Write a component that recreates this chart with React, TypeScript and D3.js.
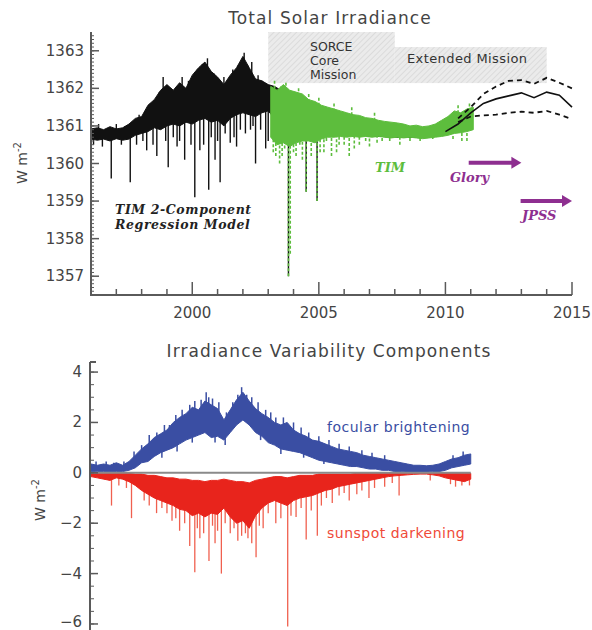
import React from "react";
import * as d3 from "d3";

// ---------- DATA ----------
// sample grid: start year + quarter-year steps
const gridStart = 1996.0;
const gridStep = 0.25;

// TIM 2-component regression model (black), W m-2, upper / lower envelope
const modelHi = [
  1360.92, 1360.95, 1360.9, 1360.98, 1360.92, 1360.95, 1361.05, 1361.2, 1361.25, 1361.55,
  1361.7, 1361.95, 1362.1, 1361.95, 1362.15, 1362.0, 1362.35, 1362.55, 1362.7, 1362.45,
  1362.3, 1362.1, 1362.35, 1362.55, 1362.85, 1362.55, 1362.25, 1362.2, 1362.1, 1362.05,
  1361.95, 1361.9, 1361.85, 1361.8, 1361.65, 1361.55, 1361.5, 1361.45, 1361.4, 1361.35,
  1361.3, 1361.25, 1361.2, 1361.15, 1361.1, 1361.05, 1361.0, 1360.95, 1360.92, 1360.88,
  1360.85, 1360.82, 1360.8, 1360.8, 1360.82, 1360.85, 1360.95, 1361.0, 1361.1, 1361.2, 1361.3,
];
const modelLo = [
  1360.65, 1360.62, 1360.65, 1360.6, 1360.66, 1360.62, 1360.65, 1360.75, 1360.8, 1360.85,
  1360.95, 1360.9, 1361.0, 1361.05, 1361.0, 1361.1, 1361.05, 1361.15, 1361.2, 1361.1,
  1361.15, 1361.0, 1361.2, 1361.3, 1361.35, 1361.3, 1361.25, 1361.35, 1361.4, 1361.2,
  1361.05, 1360.9, 1360.95, 1360.95, 1360.9, 1360.85, 1360.85, 1360.8, 1360.8, 1360.8,
  1360.75, 1360.75, 1360.75, 1360.75, 1360.72, 1360.72, 1360.72, 1360.7, 1360.7, 1360.7,
  1360.7, 1360.7, 1360.7, 1360.7, 1360.72, 1360.74, 1360.78, 1360.82, 1360.88, 1360.95, 1361.05,
];
// sharp excursions of the model: [year, value]
const modelSpikes = [
  [1996.1, 1360.5], [1996.3, 1361.05], [1996.45, 1360.45], [1996.8, 1359.6], [1997.0, 1361.05],
  [1997.2, 1360.5], [1997.35, 1361.0], [1997.55, 1359.5], [1997.8, 1360.5], [1997.9, 1361.3],
  [1998.05, 1360.6], [1998.2, 1360.35], [1998.35, 1361.6], [1998.45, 1360.5], [1998.6, 1360.2],
  [1998.7, 1361.9], [1998.85, 1362.3], [1998.95, 1360.6], [1999.05, 1359.9], [1999.15, 1362.0],
  [1999.25, 1360.7], [1999.4, 1360.45], [1999.5, 1360.6], [1999.6, 1362.3], [1999.7, 1360.1],
  [1999.85, 1362.2], [1999.95, 1360.5], [2000.1, 1359.1], [2000.2, 1362.5], [2000.3, 1360.35],
  [2000.4, 1362.65], [2000.45, 1360.5], [2000.6, 1362.8], [2000.65, 1359.3], [2000.75, 1360.7],
  [2000.85, 1362.4], [2000.9, 1360.1], [2001.0, 1360.6], [2001.1, 1359.5], [2001.25, 1362.3],
  [2001.3, 1360.8], [2001.4, 1362.2], [2001.5, 1360.55], [2001.6, 1362.5], [2001.65, 1360.7],
  [2001.75, 1360.45], [2001.8, 1362.6], [2001.9, 1360.9], [2002.05, 1362.95], [2002.1, 1360.8],
  [2002.2, 1362.6], [2002.3, 1360.9], [2002.35, 1362.7], [2002.4, 1361.0], [2002.5, 1360.0],
  [2002.6, 1362.35], [2002.7, 1360.9], [2002.75, 1362.2], [2002.85, 1361.9], [2002.9, 1360.4],
  [2003.0, 1360.6], [2003.8, 1357.0], [2004.5, 1359.25], [2004.93, 1359.0],
];

// TIM measurements (green)
const timStart = 2003.1;
const timHi = [
  1362.05, 1361.95, 1362.1, 1361.95, 1361.9, 1361.85, 1361.7, 1361.65, 1361.55, 1361.5,
  1361.45, 1361.4, 1361.35, 1361.3, 1361.28, 1361.22, 1361.2, 1361.15, 1361.12, 1361.1,
  1361.08, 1361.05, 1361.0, 1361.02, 1360.98, 1361.0, 1361.05, 1361.15, 1361.25, 1361.4,
  1361.35, 1361.45, 1361.5,
];
const timLo = [
  1360.7, 1360.5, 1360.55, 1360.45, 1360.55, 1360.6, 1360.6, 1360.55, 1360.65, 1360.7,
  1360.7, 1360.72, 1360.7, 1360.72, 1360.7, 1360.72, 1360.7, 1360.72, 1360.7, 1360.68,
  1360.7, 1360.68, 1360.7, 1360.68, 1360.66, 1360.68, 1360.7, 1360.72, 1360.75, 1360.8,
  1360.82, 1360.85, 1360.9,
];
const timSpikes = [
  [2003.2, 1360.3], [2003.25, 1362.2], [2003.3, 1360.2], [2003.45, 1360.0], [2003.5, 1362.05],
  [2003.55, 1360.2], [2003.65, 1360.4], [2003.7, 1362.15], [2003.8, 1357.0], [2003.87, 1357.6],
  [2004.0, 1360.3], [2004.1, 1360.2], [2004.2, 1362.0], [2004.25, 1360.5], [2004.35, 1360.1],
  [2004.5, 1359.25], [2004.6, 1361.85], [2004.7, 1360.2], [2004.93, 1359.0], [2005.0, 1361.75],
  [2005.05, 1360.3], [2005.2, 1360.3], [2005.3, 1360.6], [2005.5, 1360.2], [2005.6, 1361.6],
  [2005.7, 1360.3], [2005.8, 1360.5], [2006.0, 1360.5], [2006.2, 1360.2], [2006.3, 1361.5],
  [2006.4, 1360.4], [2006.6, 1360.5], [2006.85, 1360.6], [2007.0, 1360.45], [2007.2, 1361.35],
  [2007.3, 1360.55], [2007.5, 1360.6], [2007.8, 1360.6], [2008.2, 1360.5], [2008.6, 1360.6],
  [2009.0, 1360.6], [2009.5, 1360.65], [2010.3, 1360.65], [2010.5, 1361.55], [2010.65, 1360.6],
  [2010.85, 1360.6], [2010.95, 1361.6],
];

// projection
const projYears = [2010.0, 2010.5, 2011.0, 2011.5, 2012.0, 2012.5, 2013.0, 2013.5, 2014.0, 2014.5, 2015.0];
const projMid = [1360.85, 1361.05, 1361.35, 1361.6, 1361.72, 1361.8, 1361.88, 1361.75, 1361.9, 1361.82, 1361.5];
const projBandYears = [2010.5, 2011.0, 2011.5, 2012.0, 2012.5, 2013.0, 2013.5, 2014.0, 2014.5, 2015.0];
const projUpper = [1361.2, 1361.5, 1361.85, 1362.05, 1362.2, 1362.22, 1362.12, 1362.28, 1362.15, 1362.0];
const projLower = [1361.1, 1361.25, 1361.28, 1361.3, 1361.35, 1361.38, 1361.35, 1361.4, 1361.3, 1361.18];

// mission periods
const missionNames = ["SORCE Core Mission", "Extended Mission"];
const missionStart = [2003.0, 2008.0];
const missionEnd = [2008.0, 2014.0];
const missionTop = [1363.5, 1363.1];
const missionBottom = 1362.14;

// follow-on missions (arrows)
const arrowNames = ["Glory", "JPSS"];
const arrowStart = [2010.92, 2012.97];
const arrowEnd = [2013.0, 2015.0];
const arrowLevel = [1360.02, 1359.0];

// variability components
const facularHi = [
  0.35, 0.3, 0.35, 0.3, 0.4, 0.3, 0.45, 0.7, 0.95, 1.15,
  1.4, 1.55, 1.7, 2.0, 2.2, 2.35, 2.6, 2.5, 2.85, 2.7,
  2.55, 2.1, 2.5, 2.9, 3.2, 2.85, 2.55, 2.35, 2.2, 2.0,
  1.9, 2.0, 1.7, 1.55, 1.45, 1.3, 1.25, 1.15, 1.05, 0.95,
  0.9, 0.85, 0.8, 0.7, 0.65, 0.6, 0.55, 0.5, 0.45, 0.4,
  0.35, 0.3, 0.3, 0.28, 0.3, 0.35, 0.45, 0.55, 0.6, 0.7, 0.75,
];
const facularLo = [
  0.0, 0.05, 0.05, 0.05, 0.05, 0.05, 0.1, 0.2, 0.4, 0.45,
  0.65, 0.8, 0.9, 1.0, 1.15, 1.3, 1.4, 1.5, 1.6, 1.4,
  1.45, 1.3, 1.6, 1.9, 2.1, 1.9, 1.6, 1.45, 1.2, 1.1,
  0.95, 0.9, 0.85, 0.8, 0.7, 0.6, 0.5, 0.45, 0.4, 0.35,
  0.3, 0.25, 0.25, 0.2, 0.15, 0.15, 0.1, 0.1, 0.05, 0.05,
  0.02, 0.02, 0.02, 0.02, 0.05, 0.05, 0.1, 0.2, 0.25, 0.3, 0.35,
];
const facularSpikes = [
  [1996.2, 0.45], [1996.6, 0.45], [1996.9, 0.4], [1997.3, 0.45], [1997.7, 0.85],
  [1998.0, 1.1], [1998.3, 1.5], [1998.6, 1.6], [1998.8, 0.6], [1998.9, 1.9],
  [1999.1, 1.9], [1999.35, 2.3], [1999.4, 0.85], [1999.6, 2.5], [1999.9, 2.7],
  [2000.0, 1.2], [2000.1, 2.85], [2000.35, 2.9], [2000.55, 3.2], [2000.65, 3.0],
  [2000.8, 2.95], [2000.9, 1.2], [2001.05, 2.8], [2001.3, 1.1], [2001.35, 2.4],
  [2001.6, 2.8], [2001.8, 3.1], [2001.95, 3.4], [2002.15, 3.1], [2002.35, 3.0],
  [2002.6, 2.8], [2002.7, 1.3], [2002.9, 2.5], [2003.1, 2.4], [2003.3, 2.2],
  [2003.5, 0.75], [2003.6, 2.2], [2004.0, 2.0], [2004.3, 1.8], [2004.4, 0.6],
  [2004.6, 1.6], [2005.0, 1.45], [2005.2, 0.35], [2005.4, 1.3], [2005.8, 1.15],
  [2006.2, 1.05], [2006.7, 0.9], [2007.1, 0.8], [2007.6, 0.7], [2010.3, 0.7],
  [2010.7, 0.85],
];
const sunspotHi = [
  -0.02, -0.02, -0.02, -0.02, -0.02, -0.02, -0.02, -0.05, -0.05, -0.1,
  -0.1, -0.15, -0.2, -0.2, -0.25, -0.25, -0.3, -0.3, -0.35, -0.3,
  -0.3, -0.25, -0.3, -0.35, -0.35, -0.4, -0.3, -0.25, -0.2, -0.15,
  -0.15, -0.2, -0.15, -0.1, -0.1, -0.1, -0.05, -0.05, -0.05, -0.05,
  -0.05, -0.05, -0.02, -0.02, -0.02, -0.02, -0.02, -0.02, -0.02, -0.02,
  -0.02, -0.02, -0.02, -0.02, -0.02, -0.02, -0.02, -0.02, -0.02, -0.02, -0.02,
];
const sunspotLo = [
  -0.15, -0.2, -0.25, -0.3, -0.2, -0.25, -0.35, -0.5, -0.7, -0.85,
  -1.0, -1.1, -1.2, -1.3, -1.45, -1.5, -1.7, -1.6, -1.75, -1.6,
  -1.65, -1.4, -1.75, -2.0, -1.9, -2.2, -1.7, -1.4, -1.2, -1.1,
  -1.2, -1.3, -1.1, -1.0, -0.95, -0.9, -0.8, -0.7, -0.65, -0.55,
  -0.5, -0.45, -0.4, -0.35, -0.3, -0.25, -0.2, -0.15, -0.12, -0.1,
  -0.08, -0.06, -0.05, -0.05, -0.08, -0.12, -0.2, -0.25, -0.3, -0.35, -0.25,
];
const sunspotSpikes = [
  [1996.81, -1.3], [1997.1, -0.5], [1997.4, -0.6], [1997.6, -1.8], [1998.1, -1.1],
  [1998.3, -1.3], [1998.59, -1.6], [1998.8, -1.4], [1999.0, -1.6], [1999.2, -1.9],
  [1999.35, -1.8], [1999.5, -2.3], [1999.7, -2.0], [1999.9, -2.9], [2000.1, -3.95],
  [2000.2, -2.2], [2000.3, -2.6], [2000.45, -2.4], [2000.66, -3.5], [2000.8, -2.1],
  [2000.9, -2.8], [2001.0, -2.3], [2001.15, -4.0], [2001.3, -2.0], [2001.5, -2.4],
  [2001.65, -2.2], [2001.8, -2.7], [2001.95, -2.5], [2002.1, -2.4], [2002.2, -2.6],
  [2002.35, -2.8], [2002.52, -3.35], [2002.65, -2.1], [2002.8, -2.2], [2003.0, -1.6],
  [2003.3, -2.0], [2003.5, -1.8], [2003.77, -6.1], [2003.9, -1.7], [2004.1, -1.75],
  [2004.3, -1.4], [2004.5, -2.65], [2004.7, -1.5], [2004.94, -2.5], [2005.1, -1.3],
  [2005.3, -1.0], [2005.53, -1.2], [2005.8, -0.9], [2006.0, -0.8], [2006.2, -1.1],
  [2006.5, -0.85], [2006.7, -0.7], [2006.98, -1.0], [2007.2, -0.6], [2007.6, -0.55],
  [2007.9, -0.4], [2008.17, -0.9], [2009.4, -0.3], [2010.2, -0.45], [2010.4, -0.55],
  [2010.65, -0.5], [2010.95, -0.5],
];

// axis ticks
const topYTicks = [1357, 1358, 1359, 1360, 1361, 1362, 1363];
const xTickLabels = [2000, 2005, 2010, 2015];
const bottomYTicks = [4, 2, 0, -2, -4, -6];

// ---------- STYLE ----------
const FONT = "'DejaVu Sans', sans-serif";
const SERIF = "'DejaVu Serif', serif";
const AXIS = "#5a5a5a";
const TEXT = "#444";
const GREEN = "#5dbd3d";
const PURPLE = "#8e2f90";
const BLUE = "#3a4ea3";
const RED = "#e8241c";

type Row = { t: number; hi: number; lo: number };
const rows = (start: number, hi: number[], lo: number[]): Row[] =>
  hi.map((h, i) => ({ t: start + i * gridStep, hi: h, lo: lo[i] }));

function baseAt(data: Row[], t: number) {
  let best = data[0];
  for (const r of data) if (Math.abs(r.t - t) < Math.abs(best.t - t)) best = r;
  return (best.hi + best.lo) / 2;
}

export default function App() {
  const x = d3.scaleLinear().domain([1996, 2015]).range([91, 572]);
  const yT = d3.scaleLinear().domain([1356.5, 1363.5]).range([295, 32]);
  const yB = d3.scaleLinear().domain([-6.2, 4.4]).range([629, 362]);

  const model = rows(gridStart, modelHi, modelLo);
  const tim = rows(timStart, timHi, timLo);
  const fac = rows(gridStart, facularHi, facularLo);
  const sun = rows(gridStart, sunspotHi, sunspotLo);

  const areaT = d3.area<Row>().x((d) => x(d.t)).y0((d) => yT(d.lo)).y1((d) => yT(d.hi));
  const areaB = d3.area<Row>().x((d) => x(d.t)).y0((d) => yB(d.lo)).y1((d) => yB(d.hi));
  const lineT = d3.line<[number, number]>().x((d) => x(d[0])).y((d) => yT(d[1]));

  const minorTop = d3.range(13565, 13635, 1).map((v) => v / 10);
  const minorBottom = d3.range(-12, 9, 1).map((v) => v / 2);
  const xMinor = d3.range(1996, 2016);

  return (
    <svg width={592} height={630} style={{ position: "absolute", left: 0, top: 0, background: "#fff" }}>
      <defs>
        <pattern id="hatch" width="4" height="4" patternUnits="userSpaceOnUse" patternTransform="rotate(45)">
          <rect width="4" height="4" fill="#ebebeb" />
          <line x1="0" y1="0" x2="0" y2="4" stroke="#d6d6d6" strokeWidth="1.5" />
        </pattern>
      </defs>

      {/* ===== TOP PANEL ===== */}
      <text x={330} y={24} textAnchor="middle" fontFamily={FONT} fontSize={17} fill={TEXT} letterSpacing={1.1}>
        Total Solar Irradiance
      </text>

      {/* mission shading */}
      {missionNames.map((m, i) => (
        <rect key={m} x={x(missionStart[i])} y={yT(missionTop[i])}
          width={x(missionEnd[i]) - x(missionStart[i])} height={yT(missionBottom) - yT(missionTop[i])}
          fill="url(#hatch)" />
      ))}
      <text fontFamily={FONT} fontSize={12.5} fill="#333">
        <tspan x={310} y={51}>SORCE</tspan>
        <tspan x={310} y={65}>Core</tspan>
        <tspan x={310} y={79}>Mission</tspan>
      </text>
      <text x={407} y={63} fontFamily={FONT} fontSize={13} fill="#333" letterSpacing={0.4}>Extended Mission</text>

      {/* model */}
      {modelSpikes.map(([t, v], i) => (
        <line key={"ms" + i} x1={x(t)} x2={x(t)} y1={yT(v)} y2={yT(baseAt(model, t))} stroke="#111" strokeWidth={1.4} />
      ))}
      <path d={areaT(model) || ""} fill="#111" stroke="#111" strokeWidth={1} />

      {/* TIM */}
      {timSpikes.map(([t, v], i) => (
        <line key={"ts" + i} x1={x(t)} x2={x(t)} y1={yT(v)} y2={yT(baseAt(tim, t))} stroke={GREEN} strokeWidth={1.6} strokeDasharray="3,2" />
      ))}
      <path d={areaT(tim) || ""} fill={GREEN} stroke={GREEN} strokeWidth={1} />

      {/* projection */}
      <path d={lineT(projYears.map((t, i) => [t, projMid[i]])) || ""} fill="none" stroke="#111" strokeWidth={1.6} />
      <path d={lineT(projBandYears.map((t, i) => [t, projUpper[i]])) || ""} fill="none" stroke="#111" strokeWidth={1.8} strokeDasharray="5,4" />
      <path d={lineT(projBandYears.map((t, i) => [t, projLower[i]])) || ""} fill="none" stroke="#111" strokeWidth={1.8} strokeDasharray="5,4" />

      {/* arrows */}
      {arrowNames.map((n, i) => {
        const x0 = x(arrowStart[i]);
        const x1 = x(arrowEnd[i]);
        const yy = yT(arrowLevel[i]);
        return (
          <g key={n}>
            <line x1={x0} x2={x1 - 8} y1={yy} y2={yy} stroke={PURPLE} strokeWidth={4} />
            <polygon points={`${x1 - 10},${yy - 6} ${x1},${yy} ${x1 - 10},${yy + 6}`} fill={PURPLE} />
          </g>
        );
      })}
      <text x={450} y={182} fontFamily={SERIF} fontSize={13} fontWeight="bold" fontStyle="italic" fill={PURPLE}>Glory</text>
      <text x={522} y={220} fontFamily={SERIF} fontSize={13} fontWeight="bold" fontStyle="italic" fill={PURPLE}>JPSS</text>
      <text x={375} y={172} fontFamily={SERIF} fontSize={13} fontWeight="bold" fontStyle="italic" fill={GREEN}>TIM</text>

      <text fontFamily={SERIF} fontSize={12.5} fontWeight="bold" fontStyle="italic" fill="#222" letterSpacing={0.6}>
        <tspan x={115} y={214}>TIM 2-Component</tspan>
        <tspan x={115} y={229}>Regression Model</tspan>
      </text>

      {/* top axes */}
      <line x1={91} x2={91} y1={32} y2={295} stroke={AXIS} strokeWidth={2} />
      <line x1={90} x2={572} y1={295} y2={295} stroke={AXIS} strokeWidth={2} />
      {minorTop.map((v) => (
        <line key={"tm" + v} x1={91} x2={94} y1={yT(v)} y2={yT(v)} stroke={AXIS} strokeWidth={1} />
      ))}
      {topYTicks.map((v) => (
        <g key={"ty" + v}>
          <line x1={91} x2={99} y1={yT(v)} y2={yT(v)} stroke={AXIS} strokeWidth={1.5} />
          <text x={84} y={yT(v) + 5} textAnchor="end" fontFamily={FONT} fontSize={15} fill={TEXT}>{v}</text>
        </g>
      ))}
      {xMinor.map((t) => (
        <line key={"xm" + t} x1={x(t)} x2={x(t)} y1={295} y2={xTickLabels.includes(t) ? 282 : 289} stroke={AXIS} strokeWidth={1.5} />
      ))}
      {xTickLabels.map((t) => (
        <text key={"xl" + t} x={x(t)} y={318} textAnchor="middle" fontFamily={FONT} fontSize={15} fill={TEXT}>{t}</text>
      ))}
      <text transform="translate(27,163) rotate(-90)" textAnchor="middle" fontFamily={FONT} fontSize={14} fill={TEXT}>
        W m<tspan dy={-6} fontSize={10}>-2</tspan>
      </text>

      {/* ===== BOTTOM PANEL ===== */}
      <text x={329} y={357} textAnchor="middle" fontFamily={FONT} fontSize={17} fill={TEXT} letterSpacing={1.1}>
        Irradiance Variability Components
      </text>

      {sunspotSpikes.map(([t, v], i) => (
        <line key={"ss" + i} x1={x(t)} x2={x(t)} y1={yB(v)} y2={yB(baseAt(sun, t))} stroke="#f0604f" strokeWidth={1.3} />
      ))}
      <path d={areaB(sun) || ""} fill={RED} stroke={RED} strokeWidth={1} />
      {facularSpikes.map(([t, v], i) => (
        <line key={"fs" + i} x1={x(t)} x2={x(t)} y1={yB(v)} y2={yB(baseAt(fac, t))} stroke={BLUE} strokeWidth={1.5} />
      ))}
      <path d={areaB(fac) || ""} fill={BLUE} stroke={BLUE} strokeWidth={1} />
      <line x1={91} x2={x(2011)} y1={yB(0)} y2={yB(0)} stroke="#8a8a8a" strokeWidth={2} />

      <text x={327} y={432} fontFamily={FONT} fontSize={14} fill={BLUE} letterSpacing={0.5}>focular brightening</text>
      <text x={327} y={538} fontFamily={FONT} fontSize={14} fill="#ef4a38" letterSpacing={0.5}>sunspot darkening</text>

      <line x1={90} x2={90} y1={362} y2={630} stroke={AXIS} strokeWidth={2} />
      <line x1={90} x2={96} y1={362} y2={362} stroke={AXIS} strokeWidth={2} />
      {minorBottom.map((v) => (
        <line key={"bm" + v} x1={90} x2={94} y1={yB(v)} y2={yB(v)} stroke={AXIS} strokeWidth={1} />
      ))}
      {bottomYTicks.map((v) => (
        <g key={"by" + v}>
          <line x1={90} x2={98} y1={yB(v)} y2={yB(v)} stroke={AXIS} strokeWidth={1.5} />
          <text x={82} y={v === -6 ? yB(v) + 3 : yB(v) + 5} textAnchor="end" fontFamily={FONT} fontSize={15} fill={TEXT}>
            {v < 0 ? "\u2212" + Math.abs(v) : v}
          </text>
        </g>
      ))}
      <text transform="translate(45,500) rotate(-90)" textAnchor="middle" fontFamily={FONT} fontSize={14} fill={TEXT}>
        W m<tspan dy={-6} fontSize={10}>-2</tspan>
      </text>
    </svg>
  );
}
